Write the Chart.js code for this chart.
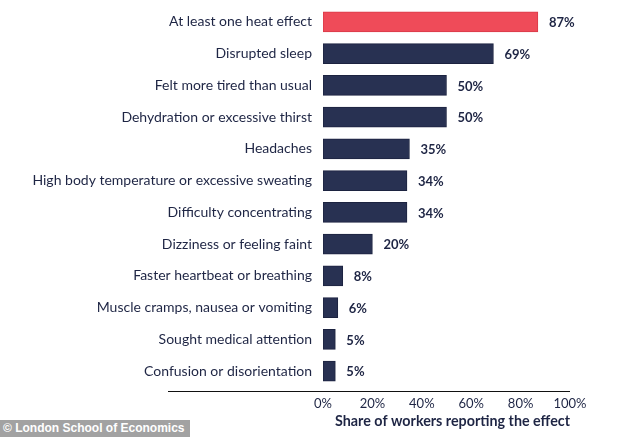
<!DOCTYPE html>
<html>
<head>
<meta charset="utf-8">
<script src="https://cdn.jsdelivr.net/npm/chart.js@4.4.1/dist/chart.umd.min.js"></script>
<style>
  html, body { margin: 0; padding: 0; background: #fff; }
  #wrap { position: relative; width: 634px; height: 437px; }
  #credit {
    position: absolute; left: 0; top: 420px; width: 190px; height: 17px;
    background: #a2a2a2; color: #fff; font: bold 12px "Liberation Sans", Arial, sans-serif;
    line-height: 17px; padding-left: 3px; box-sizing: border-box; white-space: nowrap;
  }
</style>
</head>
<body>
<div id="wrap">
  <canvas id="heatChart" width="634" height="437"></canvas>
  <div id="credit">© London School of Economics</div>
</div>
<script>
// survey results, top to bottom
const effects = [
  "At least one heat effect",
  "Disrupted sleep",
  "Felt more tired than usual",
  "Dehydration or excessive thirst",
  "Headaches",
  "High body temperature or excessive sweating",
  "Difficulty concentrating",
  "Dizziness or feeling faint",
  "Faster heartbeat or breathing",
  "Muscle cramps, nausea or vomiting",
  "Sought medical attention",
  "Confusion or disorientation"
];
const shares = [87, 69, 50, 50, 35, 34, 34, 20, 8, 6, 5, 5];
const xTicks = [0, 20, 40, 60, 80, 100];

const navy = "#283152";
const red = "#ef4b59";
const textCol = "#1e2544";
const font = "Lato, 'Noto Sans', sans-serif";

// value labels at the end of each bar
const valueLabels = {
  id: "valueLabels",
  afterDatasetsDraw(chart) {
    const ctx = chart.ctx;
    const meta = chart.getDatasetMeta(0);
    ctx.save();
    ctx.font = "bold 13px " + font;
    ctx.fillStyle = textCol;
    ctx.textAlign = "left";
    ctx.textBaseline = "middle";
    meta.data.forEach((bar, i) => {
      ctx.fillText(shares[i] + "%", bar.x + 11, bar.y + 1);
    });
    ctx.restore();
  }
};

// the baseline runs under the labels too
const baseLine = {
  id: "baseLine",
  afterDraw(chart) {
    const ctx = chart.ctx;
    const y = chart.chartArea.bottom + 4.5;
    ctx.save();
    ctx.strokeStyle = "#111";
    ctx.lineWidth = 1.2;
    ctx.beginPath();
    ctx.moveTo(168, y);
    ctx.lineTo(chart.chartArea.right, y);
    ctx.stroke();
    ctx.restore();
  }
};

new Chart(document.getElementById("heatChart"), {
  type: "bar",
  data: {
    labels: effects,
    datasets: [{
      data: shares,
      backgroundColor: shares.map((v, i) => i === 0 ? red : navy),
      borderColor: shares.map((v, i) => i === 0 ? "#d93a48" : "#1c2340"),
      borderWidth: 1,
      borderSkipped: false,
      barThickness: 20
    }]
  },
  options: {
    indexAxis: "y",
    responsive: false,
    animation: false,
    layout: { padding: { top: 6, right: 64, bottom: 0, left: 0 } },
    plugins: {
      legend: { display: false },
      tooltip: { enabled: false }
    },
    scales: {
      x: {
        min: 0,
        max: 100,
        afterBuildTicks(scale) {
          scale.ticks = xTicks.map(v => ({ value: v }));
        },
        afterFit(scale) { scale.height = 50; },
        grid: { display: false, drawTicks: false },
        border: { display: false },
        ticks: {
          padding: 9,
          color: textCol,
          font: { family: font, size: 13 },
          callback: v => v + "%"
        },
        title: {
          display: true,
          text: "Share of workers reporting the effect",
          align: "end",
          color: textCol,
          font: { family: font, size: 14.3, weight: "bold" },
          padding: { top: 0, bottom: 7 }
        }
      },
      y: {
        afterFit(scale) {
          scale.width = 323;
          scale.paddingTop = 0;
          scale.paddingBottom = 0;
        },
        grid: { display: false, drawTicks: false },
        border: { display: false },
        ticks: {
          padding: 11,
          color: textCol,
          font: { family: font, size: 14 }
        }
      }
    }
  },
  plugins: [valueLabels, baseLine]
});
</script>
</body>
</html>
